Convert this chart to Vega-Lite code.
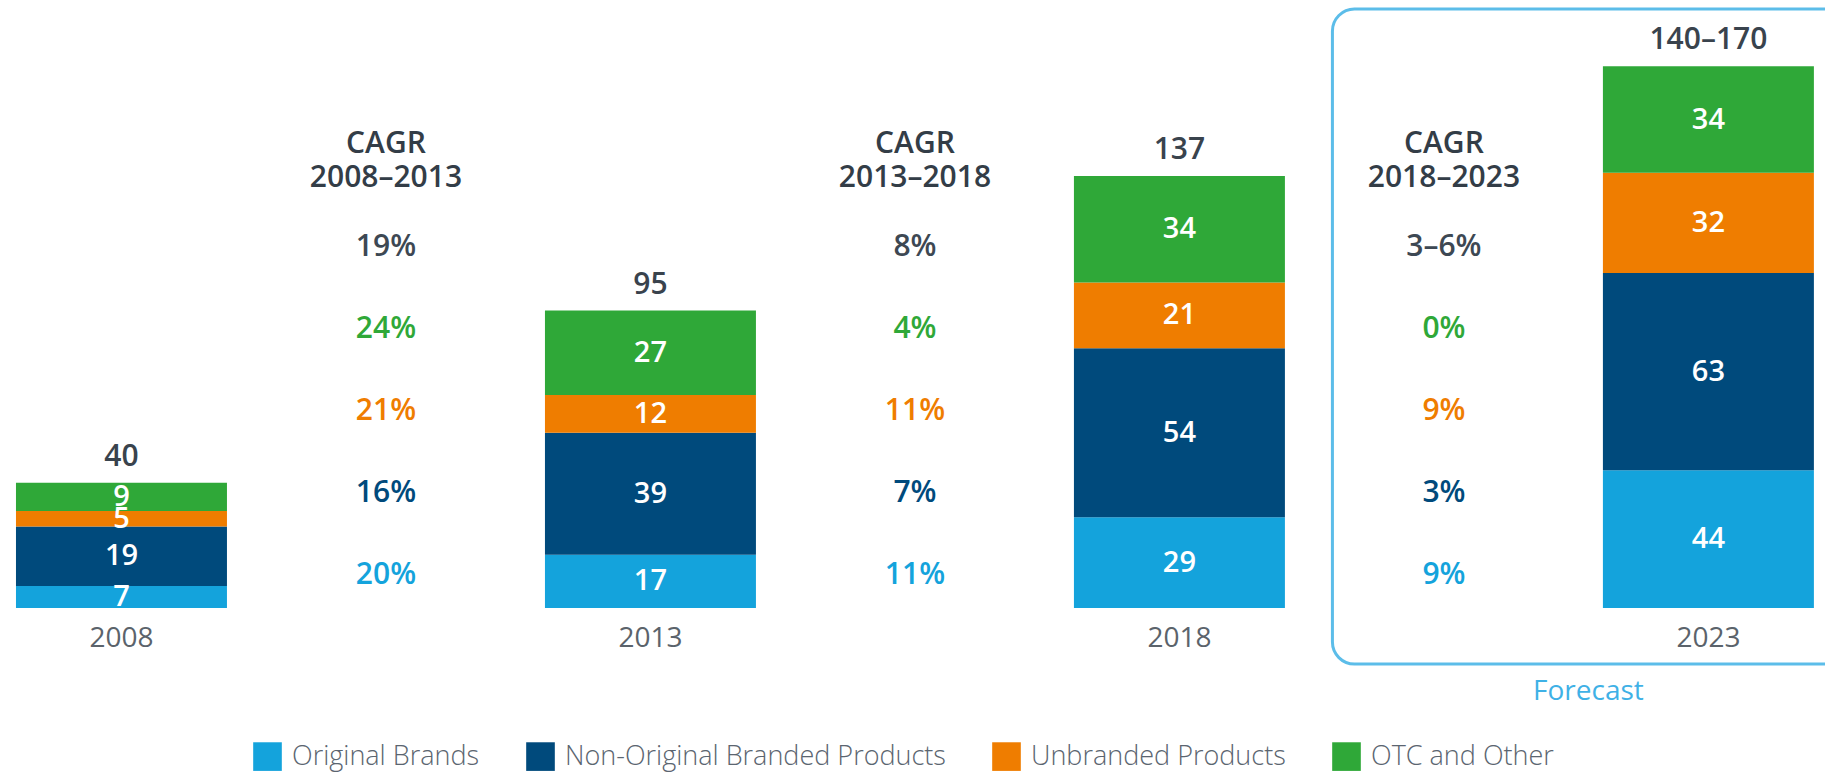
{
  "$schema": "https://vega.github.io/schema/vega-lite/v6.json",
  "width": 1825,
  "height": 608,
  "autosize": {"type": "none"},
  "padding": {"left": 0, "top": 0, "right": 0, "bottom": 164},
  "background": "white",
  "config": {"view": {"stroke": null}, "font": "Open Sans", "text": {"font": "Open Sans"}},
  "datasets": {
    "bars": [
      {"year": "2008", "segment": "Original Brands", "value": 7, "ord": 1},
      {"year": "2008", "segment": "Non-Original Branded Products", "value": 19, "ord": 2},
      {"year": "2008", "segment": "Unbranded Products", "value": 5, "ord": 3},
      {"year": "2008", "segment": "OTC and Other", "value": 9, "ord": 4},
      {"year": "2013", "segment": "Original Brands", "value": 17, "ord": 1},
      {"year": "2013", "segment": "Non-Original Branded Products", "value": 39, "ord": 2},
      {"year": "2013", "segment": "Unbranded Products", "value": 12, "ord": 3},
      {"year": "2013", "segment": "OTC and Other", "value": 27, "ord": 4},
      {"year": "2018", "segment": "Original Brands", "value": 29, "ord": 1},
      {"year": "2018", "segment": "Non-Original Branded Products", "value": 54, "ord": 2},
      {"year": "2018", "segment": "Unbranded Products", "value": 21, "ord": 3},
      {"year": "2018", "segment": "OTC and Other", "value": 34, "ord": 4},
      {"year": "2023", "segment": "Original Brands", "value": 44, "ord": 1},
      {"year": "2023", "segment": "Non-Original Branded Products", "value": 63, "ord": 2},
      {"year": "2023", "segment": "Unbranded Products", "value": 32, "ord": 3},
      {"year": "2023", "segment": "OTC and Other", "value": 34, "ord": 4}
    ],
    "totals": [
      {"year": "2008", "total": 40, "label": "40"},
      {"year": "2013", "total": 95, "label": "95"},
      {"year": "2018", "total": 138, "label": "137"},
      {"year": "2023", "total": 173, "label": "140–170"}
    ],
    "cagr": [
      {"slot": "CAGR 2008–2013", "seg": "Total", "txt": "19%"},
      {"slot": "CAGR 2008–2013", "seg": "OTC and Other", "txt": "24%"},
      {"slot": "CAGR 2008–2013", "seg": "Unbranded Products", "txt": "21%"},
      {"slot": "CAGR 2008–2013", "seg": "Non-Original Branded Products", "txt": "16%"},
      {"slot": "CAGR 2008–2013", "seg": "Original Brands", "txt": "20%"},
      {"slot": "CAGR 2013–2018", "seg": "Total", "txt": "8%"},
      {"slot": "CAGR 2013–2018", "seg": "OTC and Other", "txt": "4%"},
      {"slot": "CAGR 2013–2018", "seg": "Unbranded Products", "txt": "11%"},
      {"slot": "CAGR 2013–2018", "seg": "Non-Original Branded Products", "txt": "7%"},
      {"slot": "CAGR 2013–2018", "seg": "Original Brands", "txt": "11%"},
      {"slot": "CAGR 2018–2023", "seg": "Total", "txt": "3–6%"},
      {"slot": "CAGR 2018–2023", "seg": "OTC and Other", "txt": "0%"},
      {"slot": "CAGR 2018–2023", "seg": "Unbranded Products", "txt": "9%"},
      {"slot": "CAGR 2018–2023", "seg": "Non-Original Branded Products", "txt": "3%"},
      {"slot": "CAGR 2018–2023", "seg": "Original Brands", "txt": "9%"}
    ],
    "headers": [
      {"slot": "CAGR 2008–2013", "txt": "CAGR\n2008–2013"},
      {"slot": "CAGR 2013–2018", "txt": "CAGR\n2013–2018"},
      {"slot": "CAGR 2018–2023", "txt": "CAGR\n2018–2023"}
    ],
    "box": [{"from": "CAGR 2018–2023", "to": "2023", "label": "Forecast"}]
  },
  "layer": [
    {
      "layer": [
        {
          "data": {"name": "bars"},
          "mark": {"type": "bar"},
          "encoding": {
            "x": {
              "field": "year", "type": "nominal",
              "scale": {"type": "band", "domain": ["2008", "CAGR 2008–2013", "2013", "CAGR 2013–2018", "2018", "CAGR 2018–2023", "2023"], "paddingInner": 0.2023, "paddingOuter": 0.0512, "align": 0.59},
              "axis": {"title": null, "domain": false, "ticks": false, "grid": false, "labelPadding": 16, "labelFontSize": 28, "labelColor": "#5b636b", "labelFont": "Open Sans", "labelAngle": 0, "labelExpr": "indexof(datum.label, 'CAGR') >= 0 ? '' : datum.label"}
            },
            "y": {"field": "value", "type": "quantitative", "stack": "zero", "scale": {"domain": [0, 194.2], "nice": false, "zero": false}, "axis": null},
            "color": {
              "field": "segment", "type": "nominal",
              "scale": {"domain": ["Original Brands", "Non-Original Branded Products", "Unbranded Products", "OTC and Other"], "range": ["#14a3dc", "#004a7c", "#ef7d00", "#2fa838"]},
              "legend": {"title": null, "orient": "none", "legendX": 253, "legendY": 742, "direction": "horizontal", "symbolType": "square", "symbolSize": 820, "symbolStrokeWidth": 0, "labelFontSize": 27, "labelFont": "Open Sans", "labelFontWeight": 300, "labelColor": "#5b6570", "labelOffset": 10, "labelLimit": 600, "columnPadding": 46, "padding": 0}
            },
            "order": {"field": "ord", "type": "quantitative"}
          }
        },
        {
          "data": {"name": "bars"},
          "transform": [
            {"stack": "value", "groupby": ["year"], "sort": [{"field": "ord", "order": "ascending"}], "as": ["v0", "v1"]},
            {"calculate": "(datum.v0 + datum.v1) / 2", "as": "mid"}
          ],
          "mark": {"type": "text", "color": "white", "fontSize": 29, "fontWeight": 600, "baseline": "middle"},
          "encoding": {
            "x": {"field": "year", "type": "nominal"},
            "y": {"field": "mid", "type": "quantitative", "scale": {"domain": [0, 194.2], "nice": false, "zero": false}, "axis": null},
            "text": {"field": "value", "type": "quantitative"}
          }
        },
        {
          "data": {"name": "totals"},
          "mark": {"type": "text", "color": "#39434d", "fontSize": 30, "fontWeight": 600, "baseline": "middle", "dy": -26},
          "encoding": {
            "x": {"field": "year", "type": "nominal"},
            "y": {"field": "total", "type": "quantitative", "scale": {"domain": [0, 194.2], "nice": false, "zero": false}, "axis": null},
            "text": {"field": "label", "type": "nominal"}
          }
        },
        {
          "data": {"name": "box"},
          "mark": {"type": "rect", "filled": false, "stroke": "#5cbde9", "strokeWidth": 3, "cornerRadius": 22, "xOffset": -6, "x2Offset": 60},
          "encoding": {
            "x": {"field": "from", "type": "nominal", "bandPosition": 0},
            "x2": {"field": "to", "bandPosition": 1},
            "y": {"datum": 191.3, "type": "quantitative", "scale": {"domain": [0, 194.2], "nice": false, "zero": false}, "axis": null},
            "y2": {"datum": -17.9}
          }
        },
        {
          "data": {"name": "box"},
          "mark": {"type": "text", "color": "#3fb1e6", "fontSize": 28, "fontWeight": 400, "baseline": "middle", "dx": -120},
          "encoding": {
            "x": {"field": "to", "type": "nominal"},
            "y": {"datum": -26.8, "type": "quantitative", "scale": {"domain": [0, 194.2], "nice": false, "zero": false}, "axis": null},
            "text": {"field": "label", "type": "nominal"}
          }
        }
      ]
    },
    {
      "layer": [
        {
          "data": {"name": "cagr"},
          "mark": {"type": "text", "fontSize": 30, "fontWeight": 600, "baseline": "middle"},
          "encoding": {
            "x": {"field": "slot", "type": "nominal"},
            "y": {"field": "seg", "type": "ordinal", "scale": {"type": "point", "domain": ["Total", "OTC and Other", "Unbranded Products", "Non-Original Branded Products", "Original Brands"], "range": [247, 575], "padding": 0}, "axis": null},
            "color": {
              "condition": {"test": "datum.seg === 'Total'", "value": "#3d4853"},
              "field": "seg", "type": "nominal",
              "scale": {"domain": ["Original Brands", "Non-Original Branded Products", "Unbranded Products", "OTC and Other"], "range": ["#14a3dc", "#004a7c", "#ef7d00", "#2fa838"]},
              "legend": null
            },
            "text": {"field": "txt", "type": "nominal"}
          }
        },
        {
          "data": {"name": "headers"},
          "mark": {"type": "text", "fontSize": 30, "fontWeight": 600, "baseline": "middle", "lineBreak": "\n", "lineHeight": 34, "dy": -103, "color": "#333d47"},
          "encoding": {
            "x": {"field": "slot", "type": "nominal"},
            "y": {"datum": "Total", "type": "ordinal"},
            "text": {"field": "txt", "type": "nominal"}
          }
        }
      ]
    }
  ],
  "resolve": {"scale": {"y": "independent"}}
}
